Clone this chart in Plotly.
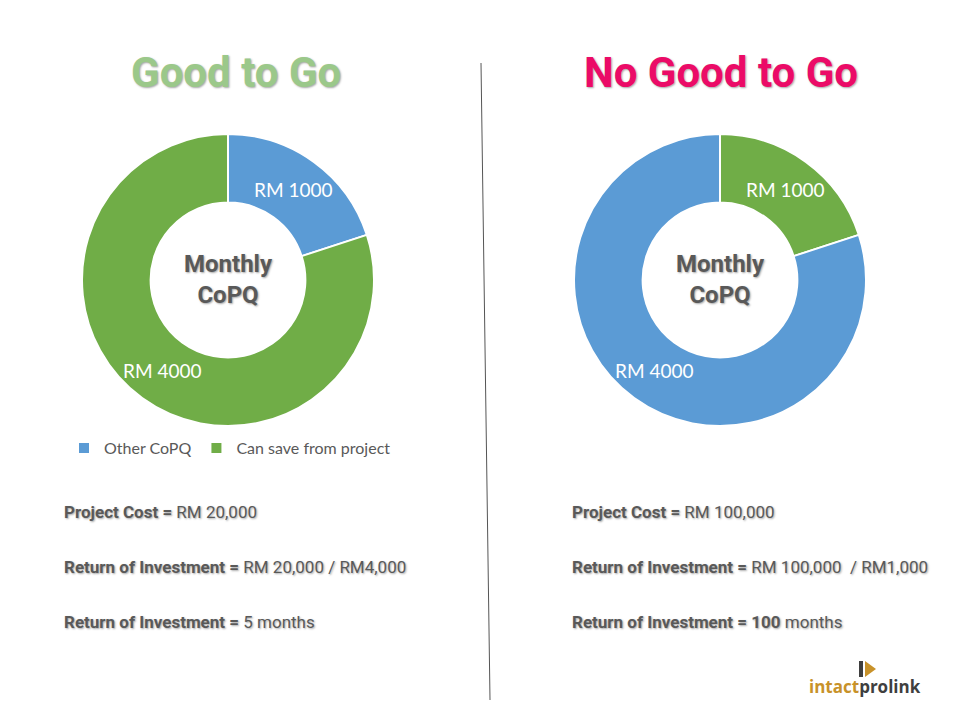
import math
import plotly.graph_objects as go

# ---- data ----
left_labels = ["Other CoPQ", "Can save from project"]
left_values = [1000, 4000]
left_colors = ["#5B9BD5", "#70AD47"]

right_labels = ["Can save from project", "Other CoPQ"]
right_values = [1000, 4000]
right_colors = ["#70AD47", "#5B9BD5"]

left_title = "Good to Go"
right_title = "No Good to Go"
center_text = "Monthly<br>CoPQ"

left_lines = [("Project Cost =", " RM 20,000"),
              ("Return of Investment =", " RM 20,000 / RM4,000"),
              ("Return of Investment =", " 5 months")]
right_lines = [("Project Cost =", " RM 100,000"),
               ("Return of Investment =", " RM 100,000  / RM1,000"),
               ("Return of Investment = 100", " months")]

# page body has an 8px margin; figure sized to fit the 960x720 window
OFF = 8
W, H = 960 - 2 * OFF, 720 - 2 * OFF
HEAD = "Roboto, Noto Sans, sans-serif"
HUM = "Lato, Noto Sans, sans-serif"
SHADOW = "1px 1px 2px rgba(0,0,0,0.35)"


def px(x):
    return (x - OFF) / W


def py(y):
    return 1 - (y - OFF) / H


def domain(cx, cy, r):
    return dict(x=[px(cx - r), px(cx + r)], y=[py(cy + r), py(cy - r)])


CY, R, HOLE = 280, 146, 0.53
fig = go.Figure()
annotations = []

for labels, values, colors, cx, leg in [
    (left_labels, left_values, left_colors, 228, "legend"),
    (right_labels, right_values, right_colors, 720, "legend2"),
]:
    fig.add_trace(go.Pie(
        labels=labels, values=values, sort=False, direction="clockwise",
        rotation=0, hole=HOLE, domain=domain(cx, CY, R),
        marker=dict(colors=colors, line=dict(color="white", width=2)),
        textinfo="none", hoverinfo="label+value", legend=leg, showlegend=True,
    ))
    # value labels at mid-angle of each slice, mid-radius of the ring
    total = sum(values)
    cum = 0
    rt = R * (1 + HOLE) / 2
    for v in values:
        th = 2 * math.pi * (cum + v / 2) / total
        cum += v
        annotations.append(dict(x=px(cx + rt * math.sin(th)), y=py(CY - rt * math.cos(th)),
                                text=f"RM {v}",
                                font=dict(family=HUM, size=19, color="white")))

legend_common = dict(orientation="h", xanchor="center", yanchor="middle",
                     font=dict(family=HUM, size=16, color="#595959"),
                     bgcolor="rgba(0,0,0,0)", traceorder="normal",
                     itemwidth=30)
fig.update_layout(
    legend=dict(x=px(230), y=py(448), **legend_common),
    legend2=dict(x=px(729), y=py(447), **legend_common),
)

# titles
annotations.append(dict(x=px(236), y=py(73), text=f"<b>{left_title}</b>",
                        font=dict(family=HEAD, size=42, color="#9BC88A", shadow=SHADOW)))
annotations.append(dict(x=px(721), y=py(73), text=f"<b>{right_title}</b>",
                        font=dict(family=HEAD, size=42, color="#EB0B67", shadow=SHADOW)))
# center labels
for cx in (228, 720):
    annotations.append(dict(x=px(cx), y=py(CY - 1), text=f"<b>{center_text}</b>",
                            font=dict(family=HEAD, size=24, color="#595959", shadow=SHADOW)))
# bottom text
for lines, x0 in ((left_lines, 62), (right_lines, 570)):
    for i, (b, r) in enumerate(lines):
        annotations.append(dict(x=px(x0), y=py(512 + 55 * i), xanchor="left",
                                text=f"<b>{b}</b>{r}",
                                font=dict(family=HEAD, size=17, color="#595959", shadow=SHADOW)))
# logo
annotations.append(dict(x=px(865), y=py(686), text="<b><span style='color:#C8922A'>intact</span>prolink</b>",
                        font=dict(family="Open Sans, sans-serif", size=17, color="#3F3F3F")))
for a in annotations:
    a.setdefault("xanchor", "center")
    a.update(xref="paper", yref="paper", yanchor="middle", showarrow=False)

shapes = [
    dict(type="line", xref="paper", yref="paper", x0=px(481), y0=py(63), x1=px(490), y1=py(700),
         line=dict(color="#555555", width=1)),
    # logo icon
    dict(type="rect", xref="paper", yref="paper", x0=px(859), x1=px(863), y0=py(677), y1=py(661),
         fillcolor="#3F3F3F", line=dict(width=0)),
    dict(type="path", xref="paper", yref="paper",
         path=f"M {px(865)} {py(661)} L {px(876)} {py(669)} L {px(865)} {py(677)} Z",
         fillcolor="#C8922A", line=dict(width=0)),
]

fig.update_layout(
    width=W, height=H, margin=dict(l=0, r=0, t=0, b=0),
    paper_bgcolor="white", plot_bgcolor="white",
    annotations=annotations, shapes=shapes,
)

fig.write_html("out.html")
